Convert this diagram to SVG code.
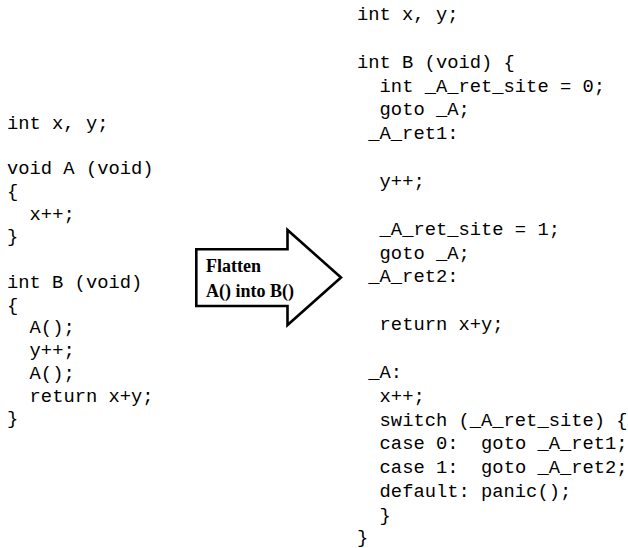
<svg xmlns="http://www.w3.org/2000/svg" width="628" height="548" viewBox="0 0 628 548">
  <style>
    .code { font-family: "Liberation Mono", "DejaVu Sans Mono", monospace; font-size: 18.8px; fill: #000; }
    .label { font-family: "Liberation Serif", "Times New Roman", serif; font-size: 18px; font-weight: bold; fill: #000; }
    .arrow { fill: #fff; stroke: #000; stroke-width: 2.6; stroke-linejoin: miter; }
  </style>
  <rect width="628" height="548" fill="#fff"/>

  <!-- original program: A() called twice from B(); column width 11.28 -->
  <g id="source-code" class="code">
    <text x="7" y="128.5">int x, y;</text>
    <text x="7" y="174">void A (void)</text>
    <text x="7" y="196.8">{</text>
    <text x="29.6" y="219.5">x++;</text>
    <text x="7" y="242.3">}</text>
    <text x="7" y="287.8">int B (void)</text>
    <text x="7" y="310.5">{</text>
    <text x="29.6" y="333.3">A();</text>
    <text x="29.6" y="356">y++;</text>
    <text x="29.6" y="378.8">A();</text>
    <text x="29.6" y="401.5">return x+y;</text>
    <text x="7" y="424.3">}</text>
  </g>

  <!-- transformation arrow -->
  <g id="flatten-arrow">
    <polygon class="arrow" points="196.3,249.3 287.5,249.3 287.5,230 341,277.5 287.5,325 287.5,306 196.3,306"/>
    <text class="label" x="206" y="271.5">Flatten</text>
    <text class="label" x="206" y="296.5">A() into B()</text>
  </g>

  <!-- flattened program: A() inlined with a return-site switch -->
  <g id="flattened-code" class="code">
    <text x="357" y="20">int x, y;</text>
    <text x="357" y="67.7">int B (void) {</text>
    <text x="379.6" y="91.6">int _A_ret_site = 0;</text>
    <text x="379.6" y="115.4">goto _A;</text>
    <text x="368.3" y="139.3">_A_ret1:</text>
    <text x="379.6" y="187">y++;</text>
    <text x="379.6" y="234.7">_A_ret_site = 1;</text>
    <text x="379.6" y="258.5">goto _A;</text>
    <text x="368.3" y="282.4">_A_ret2:</text>
    <text x="379.6" y="330.1">return x+y;</text>
    <text x="368.3" y="377.8">_A:</text>
    <text x="379.6" y="401.6">x++;</text>
    <text x="379.6" y="425.5">switch (_A_ret_site) {</text>
    <text x="379.6" y="449.3">case 0:<tspan x="481.1">goto _A_ret1;</tspan></text>
    <text x="379.6" y="473.2">case 1:<tspan x="481.1">goto _A_ret2;</tspan></text>
    <text x="379.6" y="497">default: panic();</text>
    <text x="379.6" y="520.9">}</text>
    <text x="357" y="543">}</text>
  </g>
</svg>
